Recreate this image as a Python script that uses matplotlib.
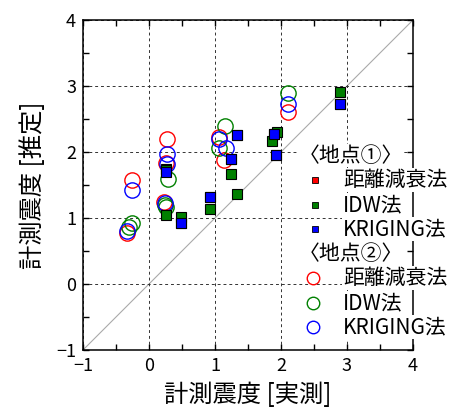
import matplotlib
matplotlib.use("Agg")
import matplotlib.pyplot as plt
from matplotlib.ticker import MultipleLocator

plt.rcParams['font.family'] = ['Noto Sans CJK JP', 'DejaVu Sans']

# 地点① (squares)
p1_red_x = [0.26, 0.48, 0.93, 1.24, 1.34, 1.89, 1.93, 2.89]
p1_red_y = [1.74, 0.92, 1.32, 1.89, 2.26, 2.28, 1.95, 2.73]
p1_idw_x = [0.26, 0.26, 0.48, 0.93, 1.24, 1.34, 1.87, 1.94, 2.89]
p1_idw_y = [1.72, 1.05, 1.01, 1.13, 1.67, 1.37, 2.16, 2.30, 2.91]
p1_krg_x = [0.26, 0.48, 0.93, 1.24, 1.34, 1.89, 1.93, 2.89]
p1_krg_y = [1.69, 0.92, 1.32, 1.89, 2.26, 2.28, 1.95, 2.73]

# 地点② (circles)
p2_red_x = [-0.26, -0.33, 0.27, 0.26, 0.23, 1.06, 1.14, 2.10]
p2_red_y = [1.58, 0.77, 2.19, 1.84, 1.25, 2.22, 1.88, 2.60]
p2_idw_x = [-0.26, -0.30, 0.29, 0.26, 0.24, 1.06, 1.15, 2.10]
p2_idw_y = [0.92, 0.86, 1.59, 1.17, 1.20, 2.06, 2.39, 2.90]
p2_krg_x = [-0.26, -0.33, 0.27, 0.27, 0.24, 1.06, 1.17, 2.10]
p2_krg_y = [1.42, 0.80, 1.97, 1.82, 1.23, 2.19, 2.06, 2.72]

methods = ['距離減衰法', 'IDW法', 'KRIGING法']
colors = ['#ff0000', '#008000', '#0000ff']

fig = plt.figure(figsize=(4.57, 4.11), dpi=100)
ax = fig.add_axes([0.1816, 0.1484, 0.7221, 0.8029])

ax.plot([-1, 4], [-1, 4], color='#aaaaaa', lw=0.8, zorder=1)

for xs, ys, c in zip([p2_red_x, p2_idw_x, p2_krg_x], [p2_red_y, p2_idw_y, p2_krg_y], colors):
    ax.plot(xs, ys, 'o', ms=11, mfc='none', mec=c, mew=1.0, zorder=3)
for xs, ys, c in zip([p1_red_x, p1_idw_x, p1_krg_x], [p1_red_y, p1_idw_y, p1_krg_y], colors):
    ax.plot(xs, ys, 's', ms=7, mfc=c, mec='black', mew=0.8, zorder=4)

ax.set_xlim(-1, 4)
ax.set_ylim(-1, 4)
ax.xaxis.set_major_locator(MultipleLocator(1))
ax.yaxis.set_major_locator(MultipleLocator(1))
ax.xaxis.set_minor_locator(MultipleLocator(0.5))
ax.yaxis.set_minor_locator(MultipleLocator(0.5))
ax.tick_params(which='both', direction='in', top=True, right=True, width=1.0)
ax.tick_params(which='major', length=4.5, labelsize=13, pad=5)
ax.tick_params(which='minor', length=4)
ax.grid(True, which='major', color='#333333', linestyle=(0, (3, 3)), lw=0.7)
for s in ax.spines.values():
    s.set_linewidth(1.1)

ax.set_xlabel('計測震度 [実測]', fontsize=17.5, labelpad=5)
ax.set_ylabel('計測震度 [推定]', fontsize=17.5, labelpad=7)

# legend drawn by hand (no frame, text on white)
row_y = [155.5, 180, 205, 229, 254, 278, 303, 327]
H, W = 411.0, 457.0
def fy(py):
    return 1 - py / H

hdr = ['〈地点①〉', '〈地点②〉']
fig.text(299 / W, fy(row_y[0]), hdr[0], fontsize=15, va='center', ha='left',
         bbox=dict(facecolor='white', edgecolor='none', pad=0.5), zorder=10)
fig.text(299 / W, fy(row_y[4]), hdr[1], fontsize=15, va='center', ha='left',
         bbox=dict(facecolor='white', edgecolor='none', pad=0.5), zorder=10)
for i, (m, c) in enumerate(zip(methods, colors)):
    y1 = fy(row_y[1 + i])
    y2 = fy(row_y[5 + i])
    fig.add_artist(plt.Line2D([315 / W], [y1], marker='s', ms=5, mfc=c, mec='black', mew=0.6, ls='none'))
    fig.add_artist(plt.Line2D([313 / W], [y2], marker='o', ms=9, mfc='none', mec=c, mew=1.0, ls='none'))
    for y in (y1, y2):
        fig.text(343 / W, y, m, fontsize=15, va='center', ha='left',
                 bbox=dict(facecolor='white', edgecolor='none', pad=0.5), zorder=10)

fig.savefig('out.png', dpi=100)
